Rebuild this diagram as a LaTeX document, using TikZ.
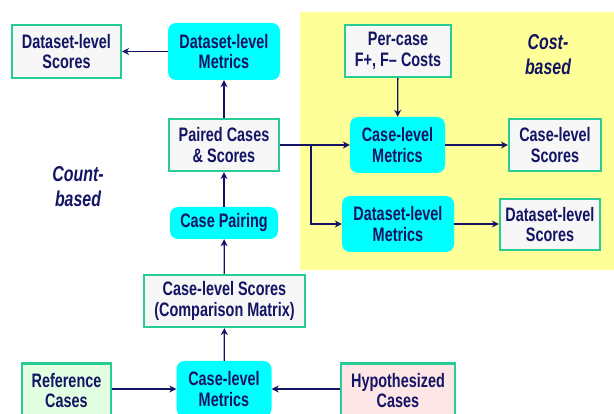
\documentclass[tikz,border=0pt]{standalone}
\usepackage{fontspec}
\setmainfont[FakeStretch=0.74]{Liberation Sans}
\usetikzlibrary{arrows.meta}
\definecolor{navy}{RGB}{20,20,100}
\definecolor{teal2}{RGB}{40,205,150}
\definecolor{boxgray}{RGB}{247,247,247}
\definecolor{cyanbox}{RGB}{0,255,255}
\definecolor{yelbg}{RGB}{255,255,153}
\definecolor{refgreen}{RGB}{226,255,226}
\definecolor{hyppink}{RGB}{255,230,230}
\tikzset{
  x=1pt, y=-1pt,
  base/.style={font=\fontsize{19.5}{20.7}\selectfont\bfseries, text=navy, align=center, inner sep=0pt},
  sbox/.style={base, draw=teal2, line width=2.2pt, fill=boxgray},
  mbox/.style={base, fill=cyanbox, rounded corners=8pt},
  conn/.style={draw=navy, line width=1.3pt, -{Stealth[length=7pt,width=7pt]}},
  lab/.style={font=\fontsize{21.5}{25}\selectfont\bfseries\itshape, text=navy, align=center},
}
\begin{document}
\begin{tikzpicture}
\clip (0,0) rectangle (614,414);
\useasboundingbox (0,0) rectangle (614,414);
\fill[white] (0,0) rectangle (614,414);
\fill[yelbg] (300,12) rectangle (614,270);

% left column
\node[sbox, minimum width=109pt, minimum height=53pt] (dsL) at (66.5,51.5) {Dataset-level\\Scores};
\node[mbox, minimum width=112pt, minimum height=57pt] (dmL) at (224,51.5) {Dataset-level\\Metrics};
\node[sbox, minimum width=110pt, minimum height=52pt] (paired) at (224,145) {Paired Cases\\\& Scores};
\node[mbox, minimum width=108pt, minimum height=32pt] (pairing) at (224,223) {Case Pairing};
\node[sbox, minimum width=161pt, minimum height=52pt] (cmat) at (224.5,301) {Case-level Scores\\(Comparison Matrix)};
\node[sbox, fill=refgreen, minimum width=89pt, minimum height=54pt] (ref) at (66.5,390.5) {Reference\\Cases};
\node[mbox, minimum width=95pt, minimum height=56pt] (cmB) at (224,389) {Case-level\\Metrics};
\node[sbox, fill=hyppink, minimum width=114pt, minimum height=54pt] (hyp) at (398,390.5) {Hypothesized\\Cases};

% right (cost-based)
\node[sbox, minimum width=106pt, minimum height=52pt] (perc) at (398,51) {Per-case\\F+, F\textendash{} Costs};
\node[mbox, minimum width=95pt, minimum height=56pt] (cmR) at (397.5,145) {Case-level\\Metrics};
\node[sbox, minimum width=92pt, minimum height=52pt] (csR) at (555,145) {Case-level\\Scores};
\node[mbox, minimum width=112pt, minimum height=56pt] (dmR) at (398,224) {Dataset-level\\Metrics};
\node[sbox, minimum width=100pt, minimum height=51pt] (dsR) at (550,224.5) {Dataset-level\\Scores};

\node[lab] (cost) at (548,55) {Cost-\\based};
\node[lab] (count) at (78,187) {Count-\\based};

\coordinate (br) at (311,145);

% connectors
\draw[conn] (dmL) -- (dsL);
\draw[conn] (paired) -- (dmL);
\draw[conn] (pairing) -- (paired);
\draw[conn] (cmat) -- (pairing);
\draw[conn] (cmB) -- (cmat);
\draw[conn] (ref.east |- cmB) -- (cmB);
\draw[conn] (hyp.west |- cmB) -- (cmB);
\draw[conn] (perc) -- (cmR);
\draw[conn] (paired) -- (cmR);
\draw[conn] (br) |- (dmR);
\draw[conn] (cmR) -- (csR);
\draw[conn] (dmR.east) -- (dsR.west |- dmR.east);
\end{tikzpicture}
\end{document}
